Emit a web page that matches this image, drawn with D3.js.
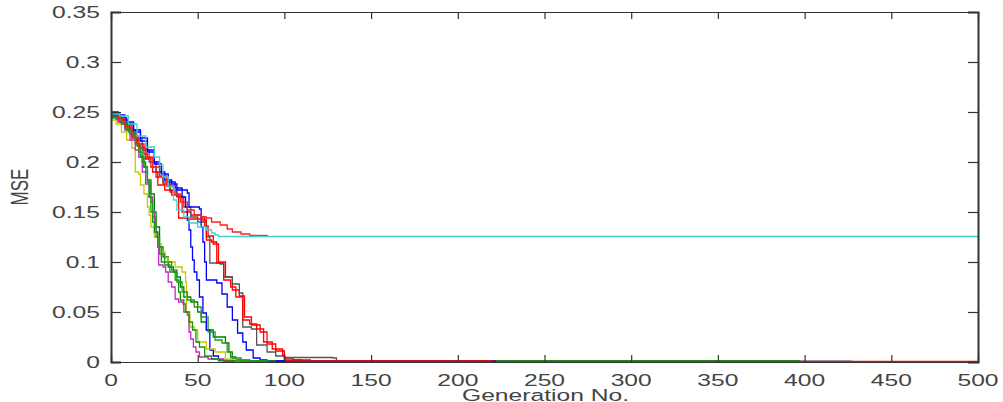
<!DOCTYPE html>
<html><head><meta charset="utf-8">
<script src="https://cdn.jsdelivr.net/npm/d3@7"></script>
<style>body{margin:0;background:#fff}svg{display:block}text{font-family:"Liberation Sans",Arial,sans-serif}</style>
</head><body>
<script>
// ---- data (generation, MSE) ----
const xTicks = [0,50,100,150,200,250,300,350,400,450,500];
const yTicks = [0,0.05,0.1,0.15,0.2,0.25,0.3,0.35];
const yTickLabels = ["0","0.05","0.1","0.15","0.2","0.25","0.3","0.35"];

const redLong = [[0,0.247],[4,0.242],[8,0.234],[12,0.224],[16,0.214],[20,0.203],[23,0.195],[26,0.185],[30,0.178],[34,0.17],[38,0.166],[41,0.15],[46,0.147],[52,0.145],[54,0.136],[56,0.126],[59,0.118],[62,0.1],[66,0.085],[70,0.072],[74,0.066],[77,0.045],[81,0.037],[86,0.03],[90,0.018],[95,0.011],[100,0.004],[105,0.002],[115,0.001],[130,0.0006],[500,0.0006]];
const greyRun = [[0,0.246],[5,0.24],[10,0.232],[14,0.222],[18,0.212],[22,0.2],[26,0.19],[30,0.18],[34,0.172],[38,0.165],[42,0.155],[46,0.145],[50,0.14],[55,0.125],[57,0.099],[63,0.098],[65,0.085],[70,0.078],[74,0.069],[76,0.035],[81,0.033],[84,0.017],[90,0.01],[95,0.006],[100,0.0045],[128,0.004],[130,0.0008],[427,0.0008]];
const greenLong = [[0,0.247],[4,0.244],[8,0.236],[12,0.226],[15,0.216],[17,0.205],[19,0.195],[21,0.182],[23,0.168],[25,0.15],[26,0.135],[28,0.115],[30,0.105],[33,0.095],[36,0.09],[38,0.085],[40,0.075],[42,0.065],[46,0.06],[50,0.05],[52,0.04],[55,0.032],[59,0.025],[66,0.019],[68,0.01],[69,0.005],[72,0.002],[80,0.0012],[397,0.0008]];
const blueSlow = [[0,0.25],[4,0.247],[8,0.242],[10,0.24],[13,0.232],[17,0.224],[21,0.212],[25,0.2],[28,0.19],[31,0.182],[35,0.178],[38,0.172],[44,0.169],[45,0.155],[51,0.153],[52,0.135],[53,0.12],[54,0.1],[55,0.082],[61,0.079],[64,0.068],[67,0.055],[70,0.042],[73,0.029],[76,0.02],[78,0.012],[82,0.004],[86,0.002],[90,0.0009],[222,0.0008]];
const redShort = [[0,0.249],[3,0.245],[7,0.238],[11,0.228],[15,0.218],[19,0.208],[21,0.204],[24,0.19],[27,0.177],[31,0.172],[35,0.167],[39,0.144],[45,0.143],[53,0.142],[55,0.122],[58,0.12],[61,0.099],[65,0.082],[69,0.075],[72,0.065],[76,0.042],[80,0.038],[84,0.033],[88,0.02],[93,0.013],[99,0.007],[100,0.002],[110,0.001],[220,0.0008]];
const blueFast = [[0,0.248],[5,0.244],[9,0.238],[13,0.23],[17,0.221],[21,0.21],[25,0.198],[29,0.188],[33,0.18],[37,0.174],[41,0.165],[43,0.155],[44,0.142],[45,0.132],[46,0.115],[47,0.102],[48,0.09],[49.5,0.082],[51,0.065],[53,0.049],[55,0.032],[57,0.012],[59,0.006],[62,0.002],[65,0.001],[100,0.0008]];
const yellowRun = [[0,0.242],[3,0.238],[6,0.23],[9,0.222],[12,0.214],[14,0.19],[16,0.188],[17,0.177],[19,0.168],[21,0.155],[22,0.147],[23,0.135],[25,0.125],[27,0.118],[29,0.11],[31,0.104],[33,0.1],[37,0.095],[41,0.09],[43,0.08],[43.5,0.05],[45.5,0.035],[48,0.032],[50,0.02],[55,0.013],[60,0.01],[66,0.003],[72,0.001],[80,0.0008]];
const magentaRun = [[0,0.245],[4,0.24],[8,0.232],[11,0.222],[14,0.212],[16,0.205],[18,0.19],[20,0.178],[22,0.165],[24,0.15],[25,0.14],[26,0.13],[27,0.115],[27.5,0.097],[30,0.095],[31.5,0.09],[33,0.08],[35,0.075],[37,0.063],[39,0.06],[41.5,0.058],[43,0.05],[44,0.047],[45,0.03],[46,0.023],[47.5,0.015],[49,0.01],[51,0.005],[56,0.003],[65,0.0015],[70,0.0008]];
const greenFast = [[0,0.245],[3,0.243],[6,0.238],[9,0.232],[12,0.228],[14,0.224],[16,0.21],[18,0.2],[20,0.19],[21,0.18],[22,0.165],[23,0.15],[24,0.14],[25,0.13],[27,0.115],[29,0.1],[31,0.097],[34,0.09],[37,0.082],[39,0.07],[40,0.062],[42,0.05],[45,0.04],[47,0.032],[49,0.02],[51,0.015],[54,0.006],[58,0.003],[62,0.0012],[95,0.001]];
const greenMid = [[0,0.244],[5,0.24],[10,0.23],[14,0.218],[17,0.206],[19,0.195],[21,0.18],[23,0.16],[24,0.145],[26,0.125],[28,0.108],[31,0.1],[35,0.092],[38,0.08],[41,0.07],[44,0.062],[48,0.055],[52,0.045],[56,0.03],[60,0.022],[64,0.019],[67,0.01],[70,0.004],[75,0.001],[90,0.0008]];
const redStuck = [[0,0.25],[4,0.244],[8,0.236],[12,0.226],[16,0.215],[20,0.205],[24,0.195],[28,0.186],[32,0.176],[36,0.168],[40,0.16],[44,0.152],[48,0.147],[52,0.145],[55,0.144],[58,0.14],[63,0.137],[67,0.133],[70,0.13],[75,0.128],[80,0.1265],[90,0.126]];
const cyanRun = [[0,0.248],[5,0.246],[10,0.238],[15,0.226],[20,0.215],[25,0.205],[28,0.197],[30,0.185],[33,0.175],[36,0.162],[38,0.152],[42,0.145],[45,0.139],[50,0.135],[55,0.132],[58,0.129],[60,0.127],[62,0.1255],[500,0.1255]];

const runs = [
  {values: redLong, color: "#ff0000"},
  {values: greyRun, color: "#555555"},
  {values: greenLong, color: "#008000"},
  {values: blueSlow, color: "#0000ff"},
  {values: redShort, color: "#ff0000"},
  {values: blueFast, color: "#0000ff"},
  {values: yellowRun, color: "#c8c800"},
  {values: magentaRun, color: "#cc22cc"},
  {values: greenFast, color: "#119911"},
  {values: greenMid, color: "#229922"},
  {values: redStuck, color: "#ff2020"},
  {values: cyanRun, color: "#40d0d0"}
];

// ---- drawing ----
const W = 1003, H = 402;
const svg = d3.select("body").append("svg").attr("width", W).attr("height", H);
svg.append("rect").attr("width", W).attr("height", H).attr("fill", "#fff");
const L = 111, R = 978, T = 12, B = 362;
const x = d3.scaleLinear().domain([0, 500]).range([L, R]);
const y = d3.scaleLinear().domain([0, 0.35]).range([B, T]);
const SX = 1.45;

const line = d3.line().x(d => x(d[0])).y(d => y(d[1])).curve(d3.curveStepAfter);
svg.append("g").selectAll("path").data(runs).join("path")
  .attr("d", d => line(d.values)).attr("fill", "none")
  .attr("stroke", d => d.color).attr("stroke-width", 1.3);

const axisColor = "#333";
// inward ticks on all four sides
const gB = svg.append("g").attr("transform", `translate(0,${B})`)
  .call(d3.axisBottom(x).tickValues(xTicks).tickSize(-7).tickFormat(""));
const gT = svg.append("g").attr("transform", `translate(0,${T})`)
  .call(d3.axisTop(x).tickValues(xTicks).tickSize(-7).tickFormat(""));
const gL = svg.append("g").attr("transform", `translate(${L},0)`)
  .call(d3.axisLeft(y).tickValues(yTicks).tickSize(-10).tickFormat(""));
const gR = svg.append("g").attr("transform", `translate(${R},0)`)
  .call(d3.axisRight(y).tickValues(yTicks).tickSize(-10).tickFormat(""));
[gB, gT, gL, gR].forEach(g => {
  g.select(".domain").attr("stroke", axisColor).attr("stroke-width", 1.2);
  g.selectAll(".tick line").attr("stroke", axisColor).attr("stroke-width", 1.2);
});
gL.select(".domain").attr("stroke-width", 2);
gR.select(".domain").attr("stroke-width", 2);

const labColor = "#444";
// y tick labels
svg.append("g").selectAll("text").data(yTicks).join("text")
  .attr("transform", (d) => `translate(100,${y(d) + 6}) scale(${SX},1)`)
  .attr("text-anchor", "end").attr("font-size", 17).attr("fill", labColor)
  .text((d, i) => yTickLabels[i]);
// x tick labels
svg.append("g").selectAll("text").data(xTicks).join("text")
  .attr("transform", d => `translate(${x(d)},${B + 24}) scale(${SX},1)`)
  .attr("text-anchor", "middle").attr("font-size", 17).attr("fill", labColor)
  .text(d => d);
// axis titles
svg.append("text").attr("transform", `translate(${(L + R) / 2 + 1},${B + 39}) scale(${SX},1)`)
  .attr("text-anchor", "middle").attr("font-size", 17).attr("fill", labColor).text("Generation No.");
svg.append("text").attr("transform", `translate(28,187) scale(${SX},1) rotate(-90)`)
  .attr("text-anchor", "middle").attr("font-size", 17).attr("fill", labColor).text("MSE");
</script>
</body></html>
